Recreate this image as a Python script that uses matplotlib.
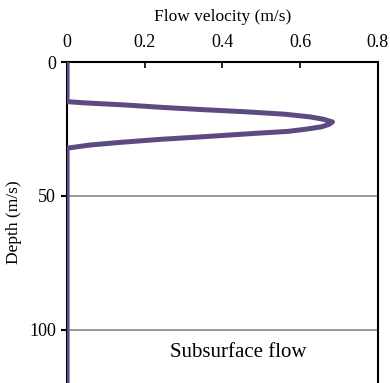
import matplotlib.pyplot as plt

# Velocity profile
depth = [0, 5, 10, 14.8, 15.3, 16.1, 17.0, 17.8, 18.6, 19.5, 20.5, 21.4, 22.4, 23.3, 24.2, 25.0, 25.9, 26.7, 28.0, 28.9, 30.0, 31.0, 31.7, 32.2, 40, 60, 80, 100, 120]
velocity = [0, 0, 0, 0, 0.05, 0.155, 0.25, 0.35, 0.46, 0.56, 0.625, 0.66, 0.683, 0.674, 0.655, 0.62, 0.57, 0.48, 0.342, 0.24, 0.14, 0.06, 0.025, 0, 0, 0, 0, 0, 0]

x_ticks = [0, 0.2, 0.4, 0.6, 0.8]
y_ticks = [0, 50, 100]


def main():
  plt.rcParams['font.family'] = ['Liberation Serif', 'DejaVu Serif']

  fig = plt.figure(figsize=(3.9, 3.83), dpi=100)
  ax = fig.add_axes([0.172, 0.0, 0.797, 0.838])

  ax.plot(velocity, depth, color='#5E4A82', linewidth=3.6, solid_capstyle='butt',
          solid_joinstyle='round', zorder=3)

  ax.set_xlim(0, 0.8)
  ax.set_ylim(120, 0)
  ax.set_xticks(x_ticks)
  ax.set_xticklabels(['0', '0.2', '0.4', '0.6', '0.8'])
  ax.set_yticks(y_ticks)

  ax.xaxis.set_ticks_position('top')
  ax.xaxis.set_label_position('top')
  ax.tick_params(axis='x', direction='in', length=4, width=1.2, labelsize=13, pad=8)
  ax.tick_params(axis='y', direction='out', length=4, width=1.5, labelsize=13, pad=4)

  ax.set_xlabel('Flow velocity (m/s)', fontsize=12.5, labelpad=9)
  ax.set_ylabel('Depth (m/s)', fontsize=12.5, labelpad=5)

  ax.yaxis.grid(True, color='#888888', linewidth=1.2)
  ax.set_axisbelow(True)

  for side in ['top', 'right', 'left']:
    ax.spines[side].set_color('black')
    ax.spines[side].set_linewidth(1.5)
  ax.spines['bottom'].set_visible(False)

  ax.text(0.44, 108.6, 'Subsurface flow', fontsize=15, ha='center', va='center')

  fig.savefig('out.png', dpi=100)


if __name__ == "__main__":
  main()
